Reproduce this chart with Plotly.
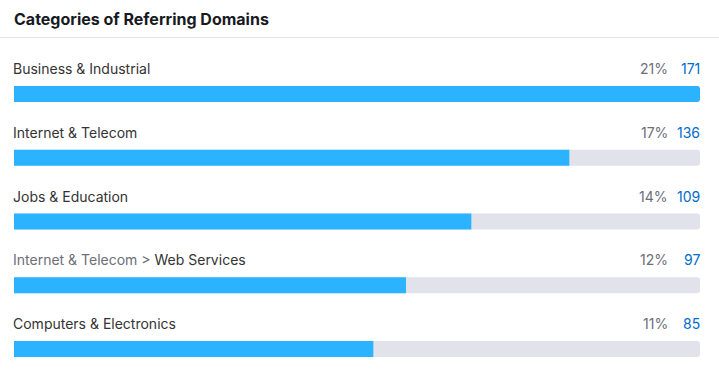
import plotly.graph_objects as go

title = "Categories of Referring Domains"
categories = [
    "Business & Industrial",
    "Internet & Telecom",
    "Jobs & Education",
    "Internet & Telecom > Web Services",
    "Computers & Electronics",
]
percents = [21, 17, 14, 12, 11]
counts = [171, 136, 109, 97, 85]

W, H = 719, 379
BLUE = "#2bb3ff"
TRACK = "#e1e2ea"
DARK = "#333333"
GRAY = "#6c6e79"
NUMBLUE = "#006dca"

n = len(categories)
ypos = list(range(n))
xmax = max(percents)

fig = go.Figure()
fig.add_trace(go.Bar(
    x=[xmax] * n, y=ypos, orientation="h", marker=dict(color=TRACK, line_width=0),
    width=0.251, hoverinfo="skip", showlegend=False,
))
fig.add_trace(go.Bar(
    x=percents, y=ypos, orientation="h", marker=dict(color=BLUE, line_width=0),
    width=0.251, hoverinfo="skip", showlegend=False,
))

# pixel mapping: row 0 center at 94px, spacing 63.75px
spacing = 63.75
r1 = -94 / spacing
r0 = r1 + H / spacing

annotations = []
annotations.append(dict(
    text="<b>" + title + "</b>", x=12 / W, y=1 - 19 / H, xref="paper", yref="paper",
    xanchor="left", yanchor="middle", showarrow=False,
    font=dict(family="Inter", size=16, color="#171a22"),
))
label_off = -25.5 / spacing
for i, (cat, p, c) in enumerate(zip(categories, percents, counts)):
    if " > " in cat:
        parent, child = cat.rsplit(" > ", 1)
        txt = f"<span style='color:{GRAY}'>{parent} &gt; </span>{child}"
    else:
        txt = cat
    annotations.append(dict(
        text=txt, x=12 / W, y=i + label_off, xref="paper", yref="y",
        xanchor="left", yanchor="middle", showarrow=False,
        font=dict(family="Inter", size=14, color=DARK), borderpad=0,
    ))
    annotations.append(dict(
        text=f"{p}%", x=669 / W, y=i + label_off, xref="paper", yref="y",
        xanchor="right", yanchor="middle", showarrow=False,
        font=dict(family="Inter", size=14, color=GRAY), borderpad=0,
    ))
    annotations.append(dict(
        text=f"{c}", x=701 / W, y=i + label_off, xref="paper", yref="y",
        xanchor="right", yanchor="middle", showarrow=False,
        font=dict(family="Inter", size=14, color=NUMBLUE), borderpad=0,
    ))

fig.update_layout(
    width=W, height=H, margin=dict(l=0, r=0, t=0, b=0),
    paper_bgcolor="white", plot_bgcolor="white",
    barmode="overlay", barcornerradius=3,
    xaxis=dict(range=[0, xmax], domain=[14 / W, 700 / W], visible=False, fixedrange=True),
    yaxis=dict(range=[r0, r1], visible=False, fixedrange=True),
    annotations=annotations,
    shapes=[dict(type="line", xref="paper", yref="paper", x0=0, x1=1,
                 y0=1 - 37.5 / H, y1=1 - 37.5 / H, line=dict(color="#e0e1e9", width=1))],
    showlegend=False,
)
fig.write_html(
    "out.html",
    config={"displayModeBar": False},
    post_script="document.body.style.margin='0';document.body.style.overflow='hidden';",
)
